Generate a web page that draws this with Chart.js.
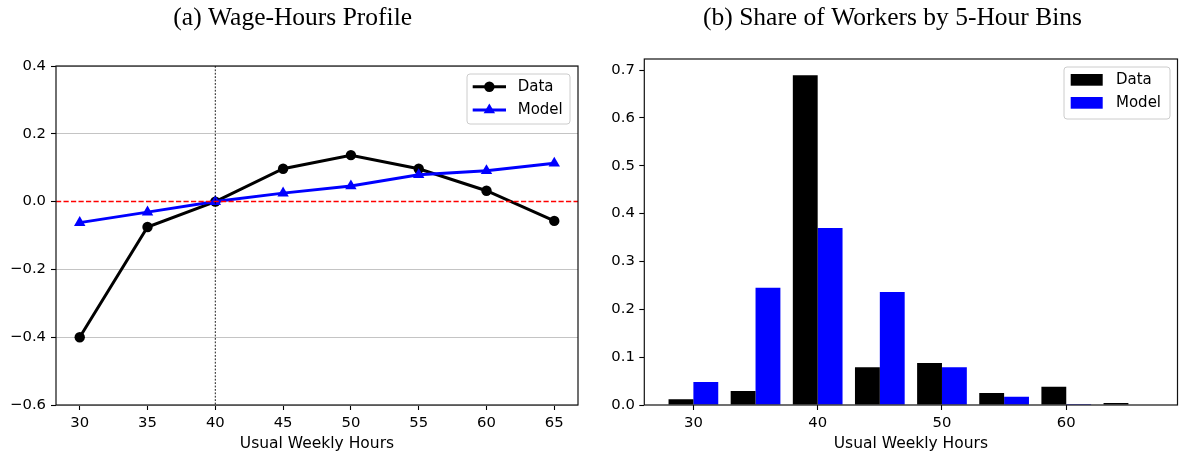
<!DOCTYPE html>
<html>
<head>
<meta charset="utf-8">
<script src="https://cdn.jsdelivr.net/npm/chart.js@4.4.1/dist/chart.umd.min.js"></script>
<style>
  html, body { margin: 0; padding: 0; background: #fff; }
  body { width: 1179px; height: 457px; position: relative; overflow: hidden; }
  canvas { position: absolute; top: 0; }
  #c1 { left: 0; }
  #c2 { left: 590px; }
</style>
</head>
<body>
<canvas id="c1" width="590" height="457"></canvas>
<canvas id="c2" width="589" height="457"></canvas>
<script>
// ---- data ----
const hours = [30, 35, 40, 45, 50, 55, 60, 65];
const wageData  = [-0.400, -0.075, 0.000, 0.097, 0.137, 0.097, 0.032, -0.057];
const wageModel = [-0.062, -0.031, 0.000, 0.025, 0.046, 0.079, 0.091, 0.113];
const shareData  = [0.012, 0.029, 0.689, 0.079, 0.088, 0.025, 0.038, 0.004];
const shareModel = [0.048, 0.245, 0.370, 0.236, 0.079, 0.017, 0.002, 0.000];
const leftXTicks  = [30, 35, 40, 45, 50, 55, 60, 65];
const leftYTicks  = [-0.6, -0.4, -0.2, 0.0, 0.2, 0.4];
const rightXTicks = [30, 40, 50, 60];
const rightYTicks = [0.0, 0.1, 0.2, 0.3, 0.4, 0.5, 0.6, 0.7];
const seriesNames = ['Data', 'Model'];
const titleA = '(a) Wage-Hours Profile';
const titleB = '(b) Share of Workers by 5-Hour Bins';
const xTitle = 'Usual Weekly Hours';
const refY = 0;
const refX = 40;

Chart.defaults.font.family = "'DejaVu Sans', sans-serif";
Chart.defaults.color = '#000';

const tickFont = { size: 14.8 };
const fmt = v => v.toFixed(1).replace('-', '\u2212');

function roundRectPath(ctx, x, y, w, h, r) {
  ctx.beginPath();
  ctx.moveTo(x + r, y);
  ctx.lineTo(x + w - r, y);
  ctx.arcTo(x + w, y, x + w, y + r, r);
  ctx.lineTo(x + w, y + h - r);
  ctx.arcTo(x + w, y + h, x + w - r, y + h, r);
  ctx.lineTo(x + r, y + h);
  ctx.arcTo(x, y + h, x, y + h - r, r);
  ctx.lineTo(x, y + r);
  ctx.arcTo(x, y, x + r, y, r);
  ctx.closePath();
}

function drawFrame(chart) {
  const { ctx, chartArea: a } = chart;
  ctx.save();
  ctx.strokeStyle = '#111';
  ctx.lineWidth = 1.2;
  ctx.strokeRect(a.left, a.top, a.right - a.left, a.bottom - a.top);
  ctx.restore();
}

function drawTitle(chart, text, cx) {
  const ctx = chart.ctx;
  ctx.save();
  ctx.font = "25.5px 'Liberation Serif', serif";
  ctx.fillStyle = '#000';
  ctx.textAlign = 'center';
  ctx.textBaseline = 'alphabetic';
  ctx.fillText(text, cx, 24.5);
  ctx.restore();
}

const leftPlugin = {
  id: 'leftDeco',
  afterDatasetsDraw(chart) {
    const { ctx, chartArea: a, scales } = chart;
    ctx.save();
    // horizontal red dashed line at 0
    const y0 = Math.floor(scales.y.getPixelForValue(refY)) + 0.5;
    ctx.strokeStyle = '#ff0000';
    ctx.lineWidth = 1.3;
    ctx.setLineDash([5.2, 2.3]);
    ctx.beginPath(); ctx.moveTo(a.left, y0); ctx.lineTo(a.right, y0); ctx.stroke();
    // vertical dotted line at 40
    const x0 = scales.x.getPixelForValue(refX);
    ctx.strokeStyle = '#000';
    ctx.lineWidth = 0.9;
    ctx.setLineDash([1.8, 1.6]);
    ctx.beginPath(); ctx.moveTo(x0, a.top); ctx.lineTo(x0, a.bottom); ctx.stroke();
    ctx.restore();
    drawFrame(chart);
    // legend
    ctx.save();
    const bx = a.right - 111, by = a.top + 8, bw = 103, bh = 50;
    roundRectPath(ctx, bx, by, bw, bh, 3);
    ctx.fillStyle = 'rgba(255,255,255,0.8)';
    ctx.fill();
    ctx.strokeStyle = '#cccccc';
    ctx.lineWidth = 1;
    ctx.stroke();
    const rows = [
      { color: '#000000', marker: 'circle', y: by + 12.7 },
      { color: '#0000ff', marker: 'triangle', y: by + 36 }
    ];
    rows.forEach((r, i) => {
      const lx1 = bx + 5.7, lx2 = bx + 39, mx = (lx1 + lx2) / 2;
      ctx.strokeStyle = r.color; ctx.fillStyle = r.color; ctx.lineWidth = 3;
      ctx.beginPath(); ctx.moveTo(lx1, r.y); ctx.lineTo(lx2, r.y); ctx.stroke();
      ctx.beginPath();
      if (r.marker === 'circle') {
        ctx.arc(mx, r.y, 5.2, 0, Math.PI * 2);
      } else {
        const rad = 6.6;
        ctx.moveTo(mx, r.y - rad);
        ctx.lineTo(mx + 0.866 * rad, r.y + 0.5 * rad);
        ctx.lineTo(mx - 0.866 * rad, r.y + 0.5 * rad);
        ctx.closePath();
      }
      ctx.fill();
      ctx.fillStyle = '#000';
      ctx.font = "15px 'DejaVu Sans', sans-serif";
      ctx.textAlign = 'left';
      ctx.textBaseline = 'middle';
      ctx.fillText(seriesNames[i], bx + 50.7, r.y);
    });
    ctx.restore();
  },
  afterDraw(chart) { drawTitle(chart, titleA, 292.7); }
};

const rightPlugin = {
  id: 'rightDeco',
  afterDatasetsDraw(chart) {
    const { ctx, chartArea: a } = chart;
    drawFrame(chart);
    ctx.save();
    const bx = a.right - 113.5, by = a.top + 8, bw = 106, bh = 52;
    roundRectPath(ctx, bx, by, bw, bh, 3);
    ctx.fillStyle = 'rgba(255,255,255,0.8)';
    ctx.fill();
    ctx.strokeStyle = '#cccccc';
    ctx.lineWidth = 1;
    ctx.stroke();
    const rows = [
      { color: '#000000', y: by + 7 },
      { color: '#0000ff', y: by + 30 }
    ];
    rows.forEach((r, i) => {
      ctx.fillStyle = r.color;
      ctx.fillRect(bx + 6.7, r.y, 32, 11.7);
      ctx.fillStyle = '#000';
      ctx.font = "15px 'DejaVu Sans', sans-serif";
      ctx.textAlign = 'left';
      ctx.textBaseline = 'middle';
      ctx.fillText(seriesNames[i], bx + 52, r.y + 6);
    });
    ctx.restore();
  },
  afterDraw(chart) { drawTitle(chart, titleB, 302.5); }
};

const xy = (xs, ys) => xs.map((x, i) => ({ x: x, y: ys[i] }));

new Chart(document.getElementById('c1'), {
  type: 'line',
  data: {
    datasets: [
      {
        label: seriesNames[0], data: xy(hours, wageData), order: 1,
        borderColor: '#000000', backgroundColor: '#000000', borderWidth: 3,
        pointStyle: 'circle', pointRadius: 5.2, pointBorderWidth: 0,
        pointBackgroundColor: '#000000', tension: 0, fill: false
      },
      {
        label: seriesNames[1], data: xy(hours, wageModel), order: 0,
        borderColor: '#0000ff', backgroundColor: '#0000ff', borderWidth: 3,
        pointStyle: 'triangle', pointRadius: 6.6, pointBorderWidth: 0,
        pointBackgroundColor: '#0000ff', tension: 0, fill: false
      }
    ]
  },
  options: {
    responsive: false, animation: false, devicePixelRatio: 1,
    layout: { padding: { top: 66, right: 12, left: 0, bottom: 0 } },
    plugins: { legend: { display: false }, tooltip: { enabled: false }, title: { display: false } },
    scales: {
      x: {
        type: 'linear', min: 28.25, max: 66.75, offset: false,
        afterBuildTicks: s => { s.ticks = leftXTicks.map(v => ({ value: v })); },
        afterFit: s => { s.height = 52; },
        ticks: { font: tickFont, padding: 4, maxRotation: 0, autoSkip: false, callback: v => String(v) },
        grid: { color: 'rgba(0,0,0,0)', tickColor: '#000', tickLength: 5, tickWidth: 1.1 },
        border: { display: false },
        title: { display: true, text: xTitle, font: { size: 15.5 }, padding: { top: 0, bottom: 3.7 } }
      },
      y: {
        type: 'linear', min: -0.6, max: 0.4,
        afterBuildTicks: s => { s.ticks = leftYTicks.map(v => ({ value: v })); },
        afterFit: s => { s.width = 56; },
        ticks: { font: tickFont, padding: 5, autoSkip: false, callback: v => fmt(v) },
        grid: {
          color: c => (c.tick && Math.abs(c.tick.value) < 1e-9) ? 'rgba(0,0,0,0)' : '#c4c4c4',
          lineWidth: 1, tickColor: '#000', tickLength: 5, tickWidth: 1.1
        },
        border: { display: false }
      }
    }
  },
  plugins: [leftPlugin]
});

new Chart(document.getElementById('c2'), {
  type: 'bar',
  data: {
    datasets: [
      { label: seriesNames[0], data: xy(hours, shareData), backgroundColor: '#000000', borderWidth: 0 },
      { label: seriesNames[1], data: xy(hours, shareModel), backgroundColor: '#0000ff', borderWidth: 0 }
    ]
  },
  options: {
    responsive: false, animation: false, devicePixelRatio: 1,
    layout: { padding: { top: 59, right: 1.5, left: 0, bottom: 0 } },
    datasets: { bar: { categoryPercentage: 0.8, barPercentage: 1.0 } },
    plugins: { legend: { display: false }, tooltip: { enabled: false }, title: { display: false } },
    scales: {
      x: {
        type: 'linear', min: 26.05, max: 68.95, offset: false,
        afterBuildTicks: s => { s.ticks = rightXTicks.map(v => ({ value: v })); },
        afterFit: s => { s.height = 52; },
        ticks: { font: tickFont, padding: 4, maxRotation: 0, autoSkip: false, callback: v => String(v) },
        grid: { offset: false, color: 'rgba(0,0,0,0)', tickColor: '#000', tickLength: 5, tickWidth: 1.1 },
        border: { display: false },
        title: { display: true, text: xTitle, font: { size: 15.5 }, padding: { top: 0, bottom: 3.7 } }
      },
      y: {
        type: 'linear', min: 0, max: 0.723,
        afterBuildTicks: s => { s.ticks = rightYTicks.map(v => ({ value: v })); },
        afterFit: s => { s.width = 54.3; },
        ticks: { font: tickFont, padding: 4.5, autoSkip: false, callback: v => fmt(v) },
        grid: { color: 'rgba(0,0,0,0)', tickColor: '#000', tickLength: 5, tickWidth: 1.1 },
        border: { display: false }
      }
    }
  },
  plugins: [rightPlugin]
});
</script>
</body>
</html>
